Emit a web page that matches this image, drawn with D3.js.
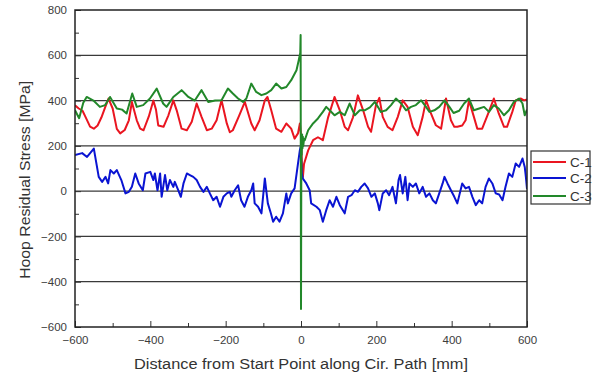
<!DOCTYPE html>
<html>
<head>
<meta charset="utf-8">
<script src="https://cdn.jsdelivr.net/npm/d3@7"></script>
<style>
  body { margin: 0; background: #fff; }
  text { font-family: Arial, "Liberation Sans", sans-serif; }
</style>
</head>
<body>
<div id="chart"></div>
<script>
// distance [mm], hoop residual stress [MPa]
const c1 = [[-600,379],[-590,365],[-580,355],[-570,320],[-560,285],[-550,276],[-540,290],[-530,325],[-520,370],[-511,409],
  [-500,365],[-489,275],[-480,255],[-468,270],[-457,313],[-449,394],[-436,313],[-427,276],[-418,269],[-404,330],
  [-392,400],[-385,360],[-379,290],[-365,284],[-352,335],[-339,401],[-330,357],[-317,276],[-303,269],[-290,306],
  [-277,387],[-264,328],[-250,269],[-237,276],[-224,313],[-211,401],[-197,299],[-189,260],[-181,269],[-165,330],
  [-149,394],[-132,299],[-123,269],[-110,313],[-96,401],[-89,416],[-79,357],[-66,276],[-52,262],[-39,299],
  [-26,276],[-17,232],[-8,255],[-3,299],[0,250],[3,80],[5,62],[8,120],[19,180],[32,225],[45,238],[58,225],
  [72,326],[89,416],[103,357],[116,284],[125,269],[138,326],[151,423],[165,357],[178,284],[186,262],[199,380],
  [208,412],[217,328],[230,284],[243,269],[257,328],[270,401],[283,372],[297,284],[310,247],[323,328],[332,401],
  [345,343],[358,291],[372,276],[385,409],[398,313],[407,284],[415,284],[428,290],[437,313],[446,401],[459,328],
  [468,276],[481,276],[495,335],[512,409],[525,343],[539,284],[547,284],[561,350],[570,401],[584,409],[592,401],[600,405]]

const c2 = [[-600,159],[-581,168],[-568,151],[-550,188],[-537,63],[-528,41],[-519,63],[-512,34],[-506,93],[-497,78],
  [-489,93],[-477,49],[-466,-10],[-457,-3],[-449,19],[-440,78],[-431,34],[-420,4],[-413,78],[-400,85],[-392,49],
  [-388,78],[-381,4],[-374,78],[-370,-25],[-361,71],[-355,4],[-348,49],[-339,19],[-335,41],[-326,4],[-319,-25],
  [-312,34],[-303,78],[-295,71],[-286,63],[-277,49],[-268,19],[-259,-3],[-250,19],[-242,-10],[-233,-40],[-224,-25],
  [-215,-69],[-206,-25],[-197,-10],[-189,-3],[-185,-25],[-176,4],[-167,26],[-159,-40],[-150,-69],[-141,-25],
  [-132,4],[-127,34],[-123,-54],[-114,-69],[-105,-98],[-96,56],[-92,0],[-88,-54],[-80,-98],[-74,-135],[-66,-113],
  [-57,-135],[-48,-98],[-39,-10],[-35,-54],[-26,-10],[-17,12],[-8,122],[-3,181],[-1,195],[2,80],[5,55],[14,34],
  [23,4],[27,-54],[41,-69],[50,-84],[58,-135],[67,-84],[76,-40],[85,-69],[94,-25],[103,-62],[116,-98],[125,-25],
  [134,-18],[143,4],[151,-3],[160,19],[169,34],[178,12],[187,-25],[196,-10],[204,-54],[208,-84],[217,-10],[226,4],
  [234,-18],[243,19],[252,-54],[259,49],[263,71],[270,-10],[277,63],[283,-40],[288,34],[297,19],[305,34],[314,-10],
  [323,19],[332,-25],[341,-10],[350,-40],[358,-54],[367,-10],[376,34],[381,63],[389,34],[398,4],[407,-25],[415,-54],
  [428,34],[437,12],[446,19],[455,-25],[464,-62],[473,-40],[481,-54],[490,19],[499,56],[508,34],[517,-10],[526,-15],
  [535,-40],[543,19],[552,78],[561,63],[570,122],[579,107],[588,144],[594,107],[597,63],[600,10]]

const c3 = [[-600,357],[-589,322],[-578,390],[-569,416],[-551,400],[-534,372],[-520,380],[-507,416],[-489,365],[-475,360],
  [-463,343],[-448,431],[-436,372],[-419,380],[-401,409],[-383,453],[-366,387],[-357,372],[-339,416],[-317,446],
  [-299,416],[-282,400],[-264,446],[-246,394],[-228,400],[-211,401],[-194,453],[-181,431],[-167,409],[-154,394],
  [-145,409],[-132,475],[-119,438],[-105,424],[-92,431],[-79,446],[-66,475],[-52,453],[-39,460],[-26,490],[-12,534],
  [-6,578],[-2,610],[-1,690],[0,-520],[1,220],[2,160],[3,250],[4,190],[5,240],[6,200],[8,230],[10,225],[19,269],
  [32,299],[45,321],[58,350],[67,372],[76,357],[89,335],[103,350],[116,335],[129,387],[143,335],[156,357],[169,357],
  [183,370],[196,394],[205,370],[212,350],[226,357],[239,380],[252,409],[266,387],[279,357],[292,372],[305,380],
  [319,401],[332,372],[341,350],[354,357],[367,372],[381,401],[394,372],[405,345],[420,355],[433,387],[446,409],
  [459,357],[473,365],[486,372],[499,350],[512,380],[525,365],[539,335],[552,357],[565,394],[579,409],[588,387],
  [594,335],[600,360]]

const seriesNames = ['C-1', 'C-2', 'C-3']
const seriesColors = ['#ea1520', '#0a14d2', '#22882a']
const xTicks = [-600, -400, -200, 0, 200, 400, 600]
const xMinorTicks = [-500, -300, -100, 100, 300, 500]
const yTicks = [-600, -400, -200, 0, 200, 400, 600, 800]
const yMinorTicks = [-500, -300, -100, 100, 300, 500, 700]
const gridValues = [-400, -200, 0, 200, 400, 600]

const width = 600
const height = 377
const margin = { top: 10, right: 73, bottom: 50, left: 75 }
const innerW = width - margin.left - margin.right
const innerH = height - margin.top - margin.bottom

const svg = d3.select('#chart').append('svg')
  .attr('width', width)
  .attr('height', height)

const x = d3.scaleLinear().domain([-600, 600]).range([margin.left, margin.left + innerW])
const y = d3.scaleLinear().domain([-600, 800]).range([margin.top + innerH, margin.top])

svg.append('defs').append('clipPath').attr('id', 'plot-clip')
  .append('rect')
  .attr('x', margin.left).attr('y', margin.top)
  .attr('width', innerW).attr('height', innerH)

// horizontal grid
svg.append('g')
  .selectAll('line')
  .data(gridValues)
  .join('line')
  .attr('x1', margin.left)
  .attr('x2', margin.left + innerW)
  .attr('y1', d => y(d))
  .attr('y2', d => y(d))
  .attr('stroke', '#3a3a3a')
  .attr('stroke-width', 1.2)

// y axis
const yAxis = svg.append('g')
  .attr('transform', `translate(${margin.left},0)`)
  .call(d3.axisLeft(y).tickValues(yTicks).tickSizeInner(-6).tickSizeOuter(0).tickPadding(8))
yAxis.select('.domain').remove()
yAxis.selectAll('text').attr('font-size', 11.5).attr('fill', '#3c3c3c').attr('font-family', 'Arial, Liberation Sans, sans-serif')
yAxis.selectAll('line').attr('stroke', '#333')

svg.append('g')
  .attr('transform', `translate(${margin.left},0)`)
  .call(d3.axisLeft(y).tickValues(yMinorTicks).tickSizeInner(-4).tickSizeOuter(0).tickFormat(''))
  .call(g => g.select('.domain').remove())
  .selectAll('line').attr('stroke', '#333')

// x axis
const xAxis = svg.append('g')
  .attr('transform', `translate(0,${margin.top + innerH})`)
  .call(d3.axisBottom(x).tickValues(xTicks).tickSizeInner(-6).tickSizeOuter(0).tickPadding(9))
xAxis.select('.domain').remove()
xAxis.selectAll('text').attr('font-size', 11.5).attr('fill', '#3c3c3c').attr('font-family', 'Arial, Liberation Sans, sans-serif')
xAxis.selectAll('line').attr('stroke', '#333')

svg.append('g')
  .attr('transform', `translate(0,${margin.top + innerH})`)
  .call(d3.axisBottom(x).tickValues(xMinorTicks).tickSizeInner(-4).tickSizeOuter(0).tickFormat(''))
  .call(g => g.select('.domain').remove())
  .selectAll('line').attr('stroke', '#333')

// series
const line = d3.line()
  .x(d => x(d[0]))
  .y(d => y(d[1]))

const plot = svg.append('g').attr('clip-path', 'url(#plot-clip)')
;[c1, c2, c3].forEach((s, i) => {
  plot.append('path')
    .datum(s)
    .attr('fill', 'none')
    .attr('stroke', seriesColors[i])
    .attr('stroke-width', 2)
    .attr('stroke-linejoin', 'round')
    .attr('d', line)
})

// frame
svg.append('rect')
  .attr('x', margin.left).attr('y', margin.top)
  .attr('width', innerW).attr('height', innerH)
  .attr('fill', 'none')
  .attr('stroke', '#222')
  .attr('stroke-width', 1.5)

// axis labels
svg.append('text')
  .attr('x', x(0))
  .attr('y', 369)
  .attr('text-anchor', 'middle')
  .attr('font-size', 15.5)
  .attr('fill', '#333')
  .attr('textLength', 334)
  .attr('lengthAdjust', 'spacingAndGlyphs')
  .text('Distance from Start Point along Cir. Path [mm]')

svg.append('text')
  .attr('transform', `translate(30,${y(50)}) rotate(-90)`)
  .attr('text-anchor', 'middle')
  .attr('font-size', 14)
  .attr('fill', '#333')
  .attr('textLength', 198)
  .attr('lengthAdjust', 'spacingAndGlyphs')
  .text('Hoop Residual Stress [MPa]')

// legend
const legend = svg.append('g').attr('transform', 'translate(531,151)')
legend.append('rect')
  .attr('width', 59).attr('height', 53)
  .attr('fill', '#fff')
  .attr('stroke', '#333')
  .attr('stroke-width', 1.2)
const rows = [11, 27, 45]
seriesNames.forEach((name, i) => {
  legend.append('line')
    .attr('x1', 2).attr('x2', 35)
    .attr('y1', rows[i]).attr('y2', rows[i])
    .attr('stroke', seriesColors[i])
    .attr('stroke-width', 1.8)
  legend.append('text')
    .attr('x', 39)
    .attr('y', rows[i] + 5)
    .attr('font-size', 13.5)
    .attr('fill', '#333')
    .text(name)
})
</script>
</body>
</html>
